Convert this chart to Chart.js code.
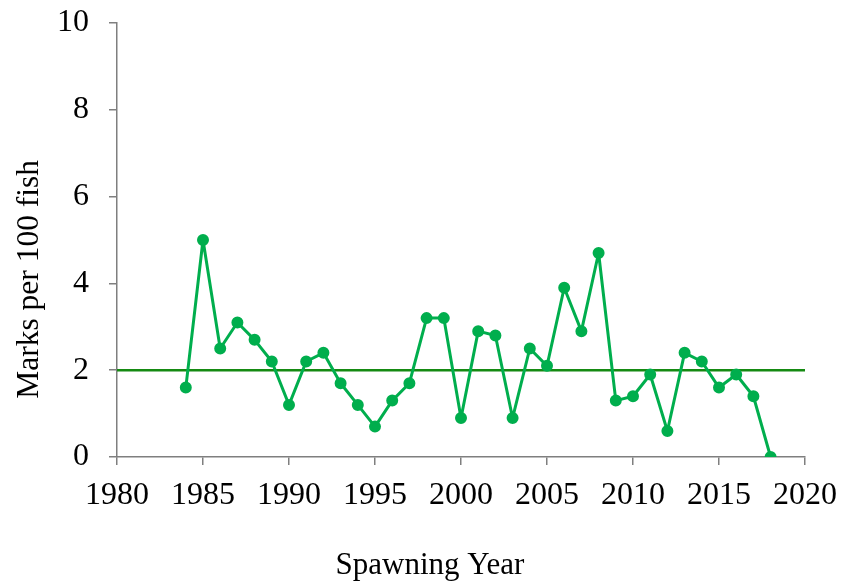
<!DOCTYPE html>
<html>
<head>
<meta charset="utf-8">
<script src="https://cdn.jsdelivr.net/npm/chart.js@4/dist/chart.umd.min.js"></script>
<style>
  html, body { margin: 0; padding: 0; background: #fff; }
  #wrap { width: 841px; height: 582px; position: relative; }
</style>
</head>
<body>
<div id="wrap"><canvas id="marksChart"></canvas></div>
<script>
  const years = [1984, 1985, 1986, 1987, 1988, 1989, 1990, 1991, 1992, 1993, 1994, 1995,
    1996, 1997, 1998, 1999, 2000, 2001, 2002, 2003, 2004, 2005, 2006, 2007, 2008, 2009,
    2010, 2011, 2012, 2013, 2014, 2015, 2016, 2017, 2018];
  const marks = [1.6, 5.0, 2.5, 3.1, 2.7, 2.2, 1.2, 2.2, 2.4, 1.7, 1.2, 0.7,
    1.3, 1.7, 3.2, 3.2, 0.9, 2.9, 2.8, 0.9, 2.5, 2.1, 3.9, 2.9, 4.7, 1.3,
    1.4, 1.9, 0.6, 2.4, 2.2, 1.6, 1.9, 1.4, 0.0];
  const targetYears = [1980, 2020];
  const targetLevel = [2, 2];

  const serif = "'Liberation Serif', 'Times New Roman', serif";
  const axisGrey = '#7f7f7f';

  const ctx = document.getElementById('marksChart').getContext('2d');
  const marksChart = new Chart(ctx, {
    type: 'scatter',
    data: {
      datasets: [{
        label: 'Target',
        data: targetYears.map((x, i) => ({ x: x, y: targetLevel[i] })),
        showLine: true,
        borderColor: '#158a12',
        borderWidth: 2.5,
        pointRadius: 0,
        order: 2
      }, {
        label: 'Marks',
        data: years.map((x, i) => ({ x: x, y: marks[i] })),
        showLine: true,
        borderColor: '#00ae4d',
        backgroundColor: '#00ae4d',
        borderWidth: 3,
        borderJoinStyle: 'round',
        pointRadius: 4.5,
        pointHoverRadius: 4.5,
        order: 1
      }]
    },
    options: {
      responsive: true,
      maintainAspectRatio: false,
      animation: false,
      layout: {
        padding: { left: 0, right: 36, top: 23, bottom: 0 }
      },
      plugins: {
        legend: { display: false },
        tooltip: { enabled: false }
      },
      scales: {
        x: {
          type: 'linear',
          min: 1980,
          max: 2020,
          afterFit: (scale) => {
            scale.height = 125;
            scale.paddingLeft = 0;
            scale.paddingRight = 0;
          },
          ticks: {
            stepSize: 5,
            color: '#000',
            padding: 11,
            maxRotation: 0,
            font: { family: serif, size: 32 },
            callback: (v) => String(v)
          },
          grid: {
            display: true,
            drawOnChartArea: false,
            drawTicks: true,
            tickLength: 8,
            color: axisGrey,
            lineWidth: 1.5
          },
          border: { color: axisGrey, width: 1.5 },
          title: {
            display: true,
            text: 'Spawning Year        ',
            color: '#000',
            font: { family: serif, size: 31, lineHeight: 1.03 },
            padding: { top: 19, bottom: 0 }
          }
        },
        y: {
          min: 0,
          max: 10,
          afterFit: (scale) => {
            scale.width = 117;
            scale.paddingTop = 0;
            scale.paddingBottom = 0;
          },
          ticks: {
            stepSize: 2,
            color: '#000',
            padding: 20,
            font: { family: serif, size: 32 }
          },
          grid: {
            display: true,
            drawOnChartArea: false,
            drawTicks: true,
            tickLength: 8,
            color: axisGrey,
            lineWidth: 1.5
          },
          border: { color: axisGrey, width: 1.5 },
          title: {
            display: true,
            text: 'Marks per 100 fish          ',
            color: '#000',
            font: { family: serif, size: 31.5 },
            padding: { top: 11, bottom: 0 }
          }
        }
      }
    }
  });
</script>
</body>
</html>
